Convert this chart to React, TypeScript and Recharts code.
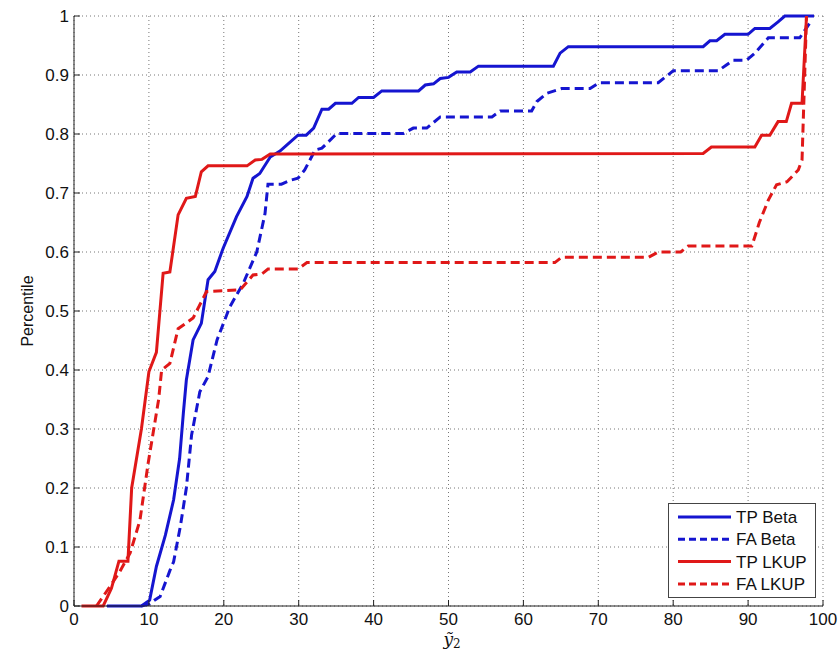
import { LineChart, Line, XAxis, YAxis, CartesianGrid, Legend } from "recharts"

const xTicks = [0, 10, 20, 30, 40, 50, 60, 70, 80, 90, 100]
const yTicks = [0, 0.1, 0.2, 0.3, 0.4, 0.5, 0.6, 0.7, 0.8, 0.9, 1]

// [y2 value, percentile] pairs
const tpBeta = [
  [4.4, 0], [9, 0], [10.1, 0.01], [11, 0.067], [12.2, 0.12], [13.3, 0.18], [14.1, 0.25],
  [14.6, 0.327], [15, 0.383], [15.9, 0.451], [17, 0.479], [17.9, 0.553], [18.8, 0.567],
  [19.9, 0.606], [21.7, 0.66], [23.1, 0.694], [23.9, 0.725], [24.8, 0.733], [26.2, 0.761],
  [27.5, 0.771], [28.4, 0.781], [29.9, 0.798], [31, 0.798], [32, 0.81], [33.1, 0.842],
  [34, 0.842], [34.9, 0.852], [37.1, 0.852], [38, 0.862], [40, 0.862], [41.1, 0.873],
  [46, 0.873], [46.9, 0.883], [48, 0.885], [48.9, 0.894], [50, 0.896], [51.1, 0.905],
  [52.9, 0.905], [54, 0.915], [64, 0.915], [64.9, 0.937], [66, 0.948], [84, 0.948],
  [84.9, 0.958], [85.8, 0.958], [86.9, 0.969], [90, 0.969], [90.9, 0.979], [92.9, 0.979],
  [94, 0.99], [94.9, 1], [98.8, 1],
]
const faBeta = [
  [9, 0], [10, 0.003], [11, 0.012], [11.5, 0.016], [12.8, 0.06], [13.3, 0.075], [14.2, 0.135],
  [15, 0.2], [15.7, 0.29], [16.8, 0.363], [17.9, 0.389], [19.1, 0.451], [20.8, 0.507],
  [22.6, 0.547], [24.4, 0.6], [25.5, 0.665], [25.9, 0.715], [27.7, 0.715], [29, 0.722],
  [29.9, 0.725], [30.8, 0.739], [32.2, 0.773], [33.1, 0.776], [35.1, 0.801], [44, 0.801],
  [45.3, 0.81], [47.1, 0.81], [48.9, 0.829], [55.8, 0.829], [56.9, 0.839], [61.1, 0.839],
  [61.8, 0.855], [63.1, 0.869], [65.1, 0.877], [68.9, 0.877], [70.1, 0.887], [78, 0.887],
  [80, 0.907], [86, 0.907], [87.1, 0.917], [88, 0.925], [89.8, 0.925], [90.9, 0.937],
  [92.7, 0.963], [96.9, 0.963], [98.5, 0.993],
]
const tpLkup = [
  [1, 0], [3.9, 0], [5, 0.03], [6, 0.076], [7.2, 0.076], [7.7, 0.2], [9, 0.3], [10, 0.397],
  [11, 0.43], [11.9, 0.564], [12.8, 0.566], [13.9, 0.663], [15, 0.691], [16.2, 0.694],
  [17, 0.736], [17.9, 0.746], [23.1, 0.746], [24.2, 0.756], [25.1, 0.757], [26.2, 0.766],
  [84, 0.767], [85.1, 0.778], [90.9, 0.778], [91.8, 0.798], [92.9, 0.798], [94, 0.821],
  [95.1, 0.821], [95.8, 0.852], [97.2, 0.852], [97.8, 1],
]
const faLkup = [
  [3, 0], [4.8, 0.033], [6.1, 0.058], [7.5, 0.09], [8.8, 0.145], [9.9, 0.242], [11.3, 0.35],
  [11.7, 0.4], [12.8, 0.411], [13.9, 0.47], [15.9, 0.488], [17.7, 0.533], [22.2, 0.536],
  [23.9, 0.561], [25.1, 0.563], [25.9, 0.571], [29.9, 0.571], [31.1, 0.582], [64.2, 0.582],
  [65.1, 0.591], [76.7, 0.591], [78, 0.6], [81, 0.6], [82, 0.61], [90.5, 0.61], [91.5, 0.65],
  [92.7, 0.688], [93.8, 0.714], [95.2, 0.719], [96.7, 0.739], [97.2, 0.756], [97.8, 1],
]

const BLUE = "#1515d0"
const RED = "#e01818"
const FONT = "'Liberation Sans', Arial, sans-serif"

const toRows = (pts: number[][]) => pts.map(([x, y]) => ({ x, y }))

const series = [
  { name: "TP Beta", pts: tpBeta, color: BLUE, dash: undefined },
  { name: "FA Beta", pts: faBeta, color: BLUE, dash: "9 5" },
  { name: "TP LKUP", pts: tpLkup, color: RED, dash: undefined },
  { name: "FA LKUP", pts: faLkup, color: RED, dash: "9 5" },
]

const XTick = (props: any) => {
  const { x, y, payload } = props
  return (
    <g>
      <line x1={x} y1={y} x2={x} y2={y - 6} stroke="#222" />
      <text x={x} y={y + 19} textAnchor="middle" fontSize={17} fontFamily={FONT} fill="#111">
        {payload.value}
      </text>
    </g>
  )
}

const YTick = (props: any) => {
  const { x, y, payload } = props
  return (
    <g>
      <line x1={x} y1={y} x2={x + 6} y2={y} stroke="#222" />
      <text x={x - 5} y={y + 6} textAnchor="end" fontSize={17} fontFamily={FONT} fill="#111">
        {payload.value}
      </text>
    </g>
  )
}

const renderLegend = () => (
  <div style={{ width: 148, height: 95, border: "1px solid #444", background: "#fff", boxSizing: "border-box" }}>
    <svg width={146} height={93}>
      {series.map((s, i) => (
        <g key={s.name}>
          <line x1={9} x2={62} y1={13 + i * 22.3} y2={13 + i * 22.3} stroke={s.color} strokeWidth={3}
            strokeDasharray={s.dash ? "7 4" : undefined} />
          <text x={67} y={19 + i * 22.3} fontSize={17} fontFamily={FONT} fill="#111">{s.name}</text>
        </g>
      ))}
    </svg>
  </div>
)

export default function App() {
  return (
    <div style={{ position: "absolute", left: 0, top: 0, background: "#fff" }}>
      <LineChart width={839} height={653} margin={{ top: 16, right: 16, bottom: 0, left: 0 }}>
        <CartesianGrid stroke="#777" strokeDasharray="1 3" />
        <XAxis
          type="number"
          dataKey="x"
          domain={[0, 100]}
          ticks={xTicks}
          interval={0}
          height={47}
          tickSize={0}
          tickMargin={0}
          tick={<XTick />}
          axisLine={{ stroke: "#222" }}
          tickLine={false}
          label={{
            content: (p: any) => {
              const vb = p.viewBox
              return (
                <text x={vb.x + vb.width / 2 - 5} y={vb.y + 39} fontFamily="'DejaVu Serif', serif" fontSize={17} fill="#111">
                  <tspan fontStyle="italic">ỹ</tspan>
                  <tspan fontSize={12} dy={3}>2</tspan>
                </text>
              )
            },
          }}
        />
        <YAxis
          type="number"
          dataKey="y"
          domain={[0, 1]}
          ticks={yTicks}
          interval={0}
          width={74}
          tickSize={0}
          tickMargin={0}
          tick={<YTick />}
          axisLine={{ stroke: "#222" }}
          tickLine={false}
          label={{
            content: (p: any) => {
              const vb = p.viewBox
              const cx = vb.x + 33
              const cy = vb.y + vb.height / 2
              return (
                <text x={cx} y={cy} transform={`rotate(-90 ${cx} ${cy})`} textAnchor="middle"
                  fontSize={16} fontFamily={FONT} fill="#111">
                  Percentile
                </text>
              )
            },
          }}
        />
        <Legend
          layout="horizontal"
          verticalAlign="middle"
          align="center"
          wrapperStyle={{ left: 668, top: 503, width: 148, height: 95 }}
          content={renderLegend}
        />
        {series.map((s) => (
          <Line
            key={s.name}
            name={s.name}
            data={toRows(s.pts)}
            dataKey="y"
            type="linear"
            stroke={s.color}
            strokeWidth={3}
            strokeDasharray={s.dash}
            dot={false}
            activeDot={false}
            isAnimationActive={false}
          />
        ))}
      </LineChart>
    </div>
  )
}
